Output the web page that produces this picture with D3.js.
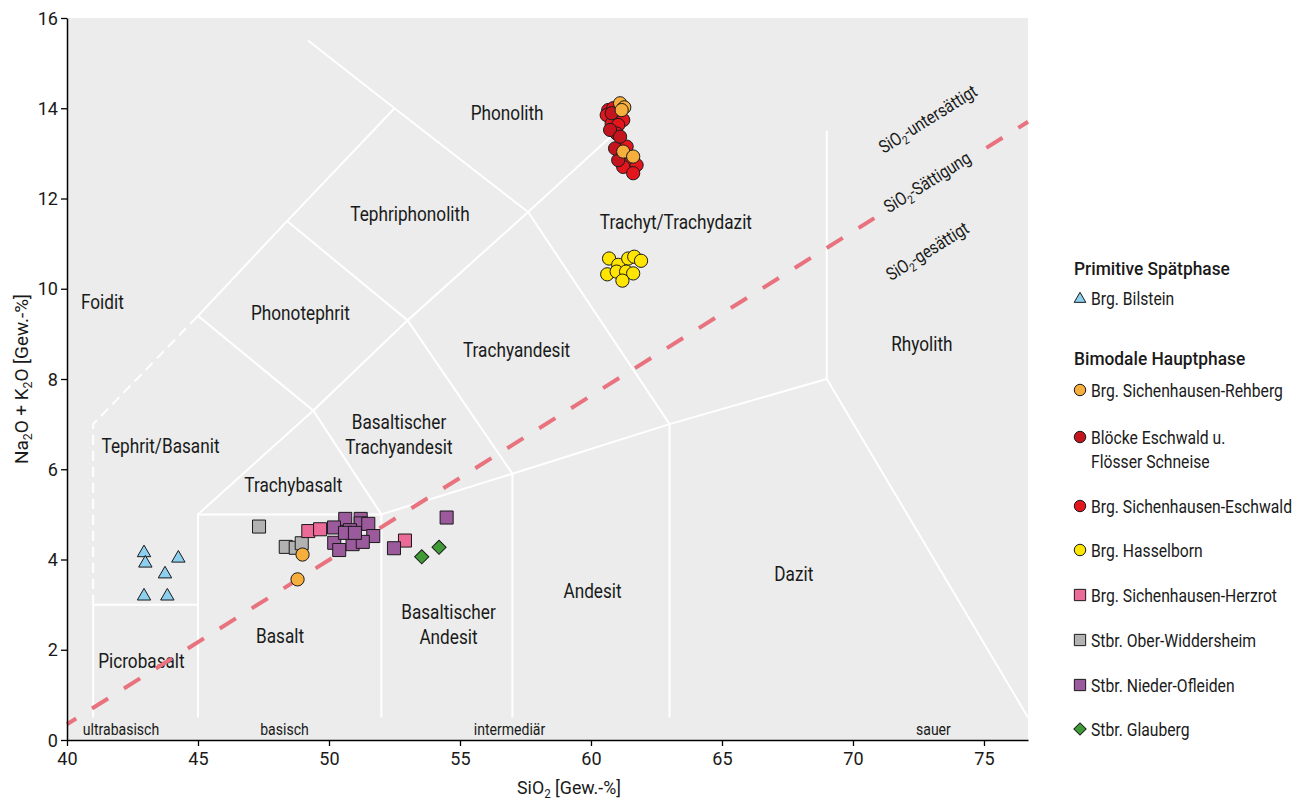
<!DOCTYPE html>
<html><head><meta charset="utf-8">
<script src="https://cdn.jsdelivr.net/npm/d3@7"></script>
<style>
body{margin:0;background:#fff;}
svg{display:block;font-family:Roboto,'Noto Sans',sans-serif;}
</style></head><body>
<svg id="chart" width="1299" height="802"></svg>
<script>
// ---------- data ----------
const xTicks = [40, 45, 50, 55, 60, 65, 70, 75];
const yTicks = [0, 2, 4, 6, 8, 10, 12, 14, 16];

const bilstein = [[42.94,4.17],[42.99,3.94],[44.25,4.05],[43.74,3.70],[42.94,3.21],[43.83,3.21]];
const rehberg = [[48.99,4.11],[48.80,3.56],[61.11,14.11],[61.27,14.02],[61.17,13.96],[61.23,13.04],[61.61,12.93]];
const bloecke = [[60.79,13.89],[60.73,13.52],[61.04,12.85],[60.92,13.11],[61.11,13.37]];
const eschwald = [[60.66,13.96],[60.85,14.00],[60.60,13.85],[60.92,13.78],[61.23,13.74],[60.79,13.66],[61.04,13.63],[60.98,13.44],[61.36,13.15],[61.49,12.78],[61.74,12.74],[61.23,12.70],[61.61,12.56]];
const hasselborn = [[60.69,10.67],[61.04,10.53],[61.42,10.67],[61.65,10.71],[61.91,10.62],[60.62,10.32],[60.98,10.38],[61.34,10.38],[61.61,10.34],[61.20,10.18]];
const herzrot = [[49.21,4.63],[49.66,4.67],[52.90,4.42]];
const oberWiddersheim = [[47.33,4.73],[48.35,4.28],[48.73,4.26],[48.96,4.36]];
const niederOfleiden = [[50.62,4.90],[50.19,4.71],[51.21,4.90],[51.21,4.80],[51.50,4.79],[51.69,4.52],[50.20,4.37],[50.39,4.21],[50.90,4.34],[51.29,4.39],[50.80,4.65],[50.61,4.59],[50.99,4.59],[54.49,4.93],[52.48,4.25]];
const glauberg = [[53.54,4.06],[54.20,4.27]];

// TAS field boundaries (SiO2, Na2O+K2O)
const solidLines = [
  [[41,0.5],[41,3],[45,3]],
  [[45,0.5],[45,5],[52,5],[52,0.5]],
  [[45,5],[49.4,7.3],[52,5]],
  [[52,5],[57,5.9],[63,7],[69,8]],
  [[57,0.5],[57,5.9],[53,9.3],[49.4,7.3],[45,9.4],[48.4,11.5],[52.5,14],[49.2,15.5]],
  [[48.4,11.5],[53,9.3],[57.6,11.7],[63,7],[63,0.5]],
  [[52.5,14],[57.6,11.7],[61,13.5]],
  [[69,13.5],[69,8],[76.68,0.5]]
];
const dashedLines = [[[41,3],[41,7],[45,9.4]]];
const alkalineLine = [[40,0.35],[76.68,13.7]];

const fieldNames = [
  {t:["Phonolith"], x:56.80, y:13.89},
  {t:["Tephriphonolith"], x:53.09, y:11.66},
  {t:["Trachyt/Trachydazit"], x:63.24, y:11.48},
  {t:["Foidit"], x:41.35, y:9.71},
  {t:["Phonotephrit"], x:48.91, y:9.46},
  {t:["Trachyandesit"], x:57.16, y:8.64},
  {t:["Rhyolith"], x:72.63, y:8.78},
  {t:["Basaltischer","Trachyandesit"], x:52.67, y:6.78},
  {t:["Tephrit/Basanit"], x:43.57, y:6.52},
  {t:["Trachybasalt"], x:48.64, y:5.65},
  {t:["Dazit"], x:67.74, y:3.67},
  {t:["Andesit"], x:60.06, y:3.30},
  {t:["Basaltischer","Andesit"], x:54.56, y:2.55},
  {t:["Basalt"], x:48.13, y:2.30},
  {t:["Picrobasalt"], x:42.84, y:1.74}
];
const acidityNames = [
  {t:"ultrabasisch", x:42.06}, {t:"basisch", x:48.30},
  {t:"intermediär", x:56.89}, {t:"sauer", x:73.07}
];
const saturationNames = [
  {parts:["SiO",{sub:"2"},"-untersättigt"], x:72.88, y:13.74},
  {parts:["SiO",{sub:"2"},"-Sättigung"], x:72.86, y:12.34, onLine:true},
  {parts:["SiO",{sub:"2"},"-gesättigt"], x:72.86, y:10.81}
];

// ---------- styles ----------
const series = [
  {data:bilstein, label:"Brg. Bilstein", shape:"triangle", fill:"#8dcfee"},
  {data:oberWiddersheim, label:"Stbr. Ober-Widdersheim", shape:"square", fill:"#b2b2b2"},
  {data:herzrot, label:"Brg. Sichenhausen-Herzrot", shape:"square", fill:"#ec6a98"},
  {data:niederOfleiden, label:"Stbr. Nieder-Ofleiden", shape:"square", fill:"#9a5a9c"},
  {data:glauberg, label:"Stbr. Glauberg", shape:"diamond", fill:"#3e9b35"},
  {data:hasselborn, label:"Brg. Hasselborn", shape:"circle", fill:"#ffe500"},
  {data:eschwald, label:"Brg. Sichenhausen-Eschwald", shape:"circle", fill:"#e3161d"},
  {data:bloecke, label:"Blöcke Eschwald u.|Flösser Schneise", shape:"circle", fill:"#c4151f"},
  {data:rehberg, label:"Brg. Sichenhausen-Rehberg", shape:"circle", fill:"#f6ae3c"}
];

const m = {left:67, top:18, right:1028, bottom:740};
const x = d3.scaleLinear().domain([40, 76.68]).range([m.left, m.right]);
const y = d3.scaleLinear().domain([0, 16]).range([m.bottom, m.top]);
const ink = "#1a1a1a";

const svg = d3.select("#chart");

// horizontal condensation factor so the sans font mimics the condensed original
function measure(str, size, weight){
  const t = svg.append("text").attr("font-size",size).attr("font-weight",weight).text(str);
  const w = t.node().getComputedTextLength(); t.remove(); return w;
}
const K = 192 / measure("Brg. Sichenhausen-Rehberg", 19, 400);
const KB = 156 / measure("Primitive Spätphase", 19, 500);

function addText(parent, px, py, parts, o={}){
  const size = o.size||19;
  const g = parent.append("g");
  const t = g.append("text").attr("font-size",size).attr("font-weight",o.weight||400)
    .attr("text-anchor",o.anchor||"start").attr("fill",ink).attr("y",o.dy||0);
  if(typeof parts==="string") parts=[parts];
  const sh = size*0.22;
  let prevSub=false;
  parts.forEach(p=>{
    if(typeof p==="string"){
      const ts=t.append("tspan").text(p); if(prevSub) ts.attr("dy",-sh); prevSub=false;
    } else {
      t.append("tspan").attr("font-size",size*0.65).attr("dy",sh).text(p.sub); prevSub=true;
    }
  });
  let k = o.k||K;
  if(o.w){ k = o.w / t.node().getComputedTextLength(); }
  g.attr("transform",`translate(${px},${py}) rotate(${o.rotate||0}) scale(${k},1)`);
  return t;
}

svg.append("rect").attr("x",m.left).attr("y",m.top)
  .attr("width",m.right-m.left).attr("height",m.bottom-m.top).attr("fill","#ebeceb");

const line = d3.line().x(d=>x(d[0])).y(d=>y(d[1]));
svg.append("g").selectAll("path").data(solidLines).join("path")
  .attr("d",line).attr("fill","none").attr("stroke","#fff").attr("stroke-width",2);
svg.append("g").selectAll("path").data(dashedLines).join("path")
  .attr("d",line).attr("fill","none").attr("stroke","#fff").attr("stroke-width",2).attr("stroke-dasharray","10,6");

// field labels
const fl = svg.append("g");
fieldNames.forEach(f=>{
  const n = f.t.length;
  f.t.forEach((s,i)=>{
    addText(fl, x(f.x), y(f.y) + (i-(n-1)/2)*25, s, {size:20, anchor:"middle", dy:7, k:K*1.04});
  });
});
const al = svg.append("g");
acidityNames.forEach(a=> addText(al, x(a.x), y(0.24), a.t, {size:17, anchor:"middle", dy:6}));

// alkaline / subalkaline line, interrupted where the "Sättigung" label sits on it
const ang = -Math.atan((y(alkalineLine[0][1])-y(alkalineLine[1][1]))/(x(alkalineLine[1][0])-x(alkalineLine[0][0])))*180/Math.PI;
const gapLabel = saturationNames.find(s=>s.onLine);
const defs = svg.append("defs");
const mask = defs.append("mask").attr("id","gapmask").attr("maskUnits","userSpaceOnUse")
  .attr("x",0).attr("y",0).attr("width",1299).attr("height",802);
mask.append("rect").attr("x",0).attr("y",0).attr("width",1299).attr("height",802).attr("fill","#fff");
mask.append("rect").attr("x",-64).attr("y",-10).attr("width",128).attr("height",20).attr("fill","#000")
  .attr("transform",`translate(${x(gapLabel.x)},${y(gapLabel.y)}) rotate(${ang})`);
svg.append("path").datum(alkalineLine).attr("d",line).attr("fill","none").attr("mask","url(#gapmask)")
  .attr("stroke","#e8727e").attr("stroke-width",4).attr("stroke-dasharray","19,18.7").attr("stroke-dashoffset",8.2);

// saturation labels
const sl = svg.append("g");
saturationNames.forEach(s=> addText(sl, x(s.x), y(s.y), s.parts, {size:18, anchor:"middle", rotate:ang, dy:5, k:K*1.03}));

// axes
const xAxis = svg.append("g").attr("transform",`translate(0,${m.bottom})`)
  .call(d3.axisBottom(x).tickValues(xTicks).tickSize(6).tickSizeOuter(0));
const yAxis = svg.append("g").attr("transform",`translate(${m.left},0)`)
  .call(d3.axisLeft(y).tickValues(yTicks).tickSize(6).tickSizeOuter(0));
const KT = 0.95;
[xAxis,yAxis].forEach(a=>{
  a.attr("font-family",null).attr("font-size",19);
  a.select(".domain").attr("stroke","#000").attr("stroke-width",1.5);
  a.selectAll(".tick line").attr("stroke","#000").attr("stroke-width",1.3);
  a.selectAll(".tick text").attr("fill",ink).attr("transform",`scale(${KT},1)`);
});
xAxis.selectAll(".tick text").attr("dy","0.85em");
yAxis.selectAll(".tick text").attr("x",-9/KT);

// axis titles
const at = svg.append("g");
addText(at, 569, 794, ["SiO",{sub:"2"}," [Gew.-%]"], {size:19, anchor:"middle", w:104});
addText(at, 28, 379, ["Na",{sub:"2"},"O + K",{sub:"2"},"O [Gew.-%]"], {size:19, anchor:"middle", rotate:-90, w:170});

// markers
function symPath(shape, scale){
  if(shape==="circle") return d3.symbol(d3.symbolCircle, 138*scale)();
  if(shape==="square") return d3.symbol(d3.symbolSquare, 170*scale)();
  if(shape==="triangle") return d3.symbol(d3.symbolTriangle, 78*scale)();
  if(shape==="diamond") return d3.symbol(d3.symbolSquare, 100*scale)();
}
function symTransform(shape, cx, cy){
  return shape==="diamond" ? `translate(${cx},${cy}) rotate(45)` :
    shape==="triangle" ? `translate(${cx},${cy+1})` : `translate(${cx},${cy})`;
}
series.forEach(s=>{
  svg.append("g").selectAll("path").data(s.data).join("path")
    .attr("d",symPath(s.shape,1))
    .attr("transform",d=>symTransform(s.shape,x(d[0]),y(d[1])))
    .attr("fill",s.fill).attr("stroke",ink).attr("stroke-width",1);
});

// legend
const legend = svg.append("g");
const byLabel = l => series.find(s=>s.label===l);
const legendRows = [
  {head:"Primitive Spätphase", y:268},
  {s:"Brg. Bilstein", y:298},
  {head:"Bimodale Hauptphase", y:358},
  {s:"Brg. Sichenhausen-Rehberg", y:390},
  {s:"Blöcke Eschwald u.|Flösser Schneise", y:437},
  {s:"Brg. Sichenhausen-Eschwald", y:506},
  {s:"Brg. Hasselborn", y:550},
  {s:"Brg. Sichenhausen-Herzrot", y:595},
  {s:"Stbr. Ober-Widdersheim", y:640},
  {s:"Stbr. Nieder-Ofleiden", y:685},
  {s:"Stbr. Glauberg", y:729}
];
legendRows.forEach(r=>{
  if(r.head){
    addText(legend, 1074, r.y, r.head, {size:19, weight:500, k:KB, dy:7});
  } else {
    const s = byLabel(r.s);
    legend.append("path").attr("d",symPath(s.shape,0.75))
      .attr("transform",symTransform(s.shape,1080,r.y))
      .attr("fill",s.fill).attr("stroke",ink).attr("stroke-width",1);
    s.label.split("|").forEach((t,i)=> addText(legend, 1091, r.y+i*24, t, {size:19, dy:7}));
  }
});
</script>
</body></html>
